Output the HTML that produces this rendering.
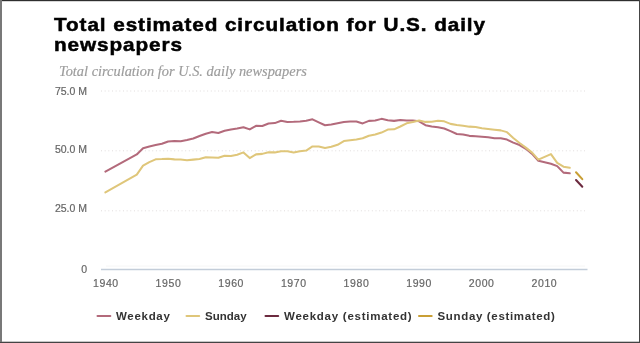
<!DOCTYPE html>
<html><head><meta charset="utf-8">
<style>
html,body{margin:0;padding:0;background:#fff;}
body{width:640px;height:343px;overflow:hidden;position:relative;}
.b{position:absolute;}
.t{position:absolute;white-space:nowrap;font-family:"Liberation Sans",sans-serif;filter:grayscale(1);}
.ti{font-size:18.5px;font-weight:bold;color:#000;line-height:20px;transform-origin:0 0;-webkit-text-stroke:0.5px #000;}
#sub{left:58.5px;top:63.5px;font-family:"Liberation Serif",serif;font-style:italic;font-size:13.6px;color:#9c9c9c;-webkit-text-stroke:0.15px #9c9c9c;transform-origin:0 0;transform:scaleX(1.058);}
.yl{font-size:10.5px;color:#666;-webkit-text-stroke:0.2px #666;text-align:right;width:40px;}
.xl{font-size:10.5px;color:#666;-webkit-text-stroke:0.2px #666;text-align:center;width:40px;letter-spacing:0.6px;text-indent:0.6px;}
.lg{font-size:11.5px;font-weight:bold;color:#333;top:310px;}
svg{position:absolute;left:0;top:0;}
</style></head><body>
<svg width="640" height="343" viewBox="0 0 640 343">
 <g stroke="#e0dcdc" stroke-width="1" stroke-dasharray="1 2.66">
  <line x1="101" y1="91" x2="585" y2="91"/>
  <line x1="101" y1="150.8" x2="585" y2="150.8"/>
  <line x1="101" y1="210.8" x2="585" y2="210.8"/>
 </g>
 <line x1="106" y1="266.1" x2="585" y2="266.1" stroke="#f6f6f6" stroke-width="1"/>
 <line x1="101" y1="269.5" x2="587.5" y2="269.5" stroke="#c3cdd9" stroke-width="1.4"/>
 <g fill="none" stroke-width="2.05" stroke-linejoin="round" stroke-linecap="round">
  <path d="M105.40 171.61 L136.78 154.39 L143.05 148.35 L149.33 146.58 L155.60 145.12 L161.88 143.79 L168.15 141.46 L174.43 141.01 L180.70 141.17 L186.98 139.93 L193.25 138.50 L199.53 135.95 L205.80 133.68 L212.08 132.01 L218.35 132.93 L224.62 130.84 L230.90 129.46 L237.18 128.56 L243.45 127.16 L249.73 129.40 L256.00 125.82 L262.27 125.95 L268.55 123.48 L274.83 123.09 L281.10 120.78 L287.38 121.91 L293.65 121.79 L299.93 121.50 L306.20 120.84 L312.48 119.33 L318.75 122.34 L325.02 125.24 L331.30 124.48 L337.58 123.25 L343.85 122.07 L350.12 121.52 L356.40 121.57 L362.68 123.40 L368.95 120.89 L375.23 120.52 L381.50 118.87 L387.77 120.23 L394.05 120.86 L400.33 120.09 L406.60 120.40 L412.88 120.51 L419.15 121.27 L425.43 125.17 L431.70 126.41 L437.98 127.25 L444.25 128.45 L450.52 131.09 L456.80 133.97 L463.08 134.57 L469.35 135.87 L475.62 136.35 L481.90 136.84 L488.18 137.30 L494.45 138.23 L500.73 138.24 L507.00 139.56 L513.27 142.61 L519.55 145.02 L525.83 148.79 L532.10 153.88 L538.38 160.87 L550.93 163.80 L557.20 166.15 L563.48 172.61 L569.75 173.30" stroke="#b36a7b"/>
  <path d="M105.40 192.42 L136.78 174.63 L143.05 165.60 L149.33 162.07 L155.60 159.32 L161.88 159.10 L168.15 158.67 L174.43 159.39 L180.70 159.55 L186.98 160.17 L193.25 159.63 L199.53 158.99 L205.80 157.29 L212.08 157.57 L218.35 157.78 L224.62 155.66 L230.90 156.01 L237.18 154.79 L243.45 152.41 L249.73 158.08 L256.00 154.39 L262.27 153.88 L268.55 152.26 L274.83 152.39 L281.10 151.28 L287.38 151.32 L293.65 152.41 L299.93 151.35 L306.20 150.55 L312.48 146.47 L318.75 146.56 L325.02 147.95 L331.30 146.83 L337.58 144.78 L343.85 141.07 L350.12 140.15 L356.40 139.44 L362.68 138.25 L368.95 135.68 L375.23 134.53 L381.50 132.56 L387.77 129.59 L394.05 129.35 L400.33 126.53 L406.60 123.30 L412.88 122.03 L419.15 120.54 L425.43 121.89 L431.70 121.67 L437.98 120.71 L444.25 121.35 L450.52 123.88 L456.80 124.90 L463.08 125.65 L469.35 126.64 L475.62 127.05 L481.90 128.18 L488.18 128.96 L494.45 129.70 L500.73 130.37 L507.00 132.13 L513.27 138.03 L519.55 143.00 L525.83 147.59 L532.10 152.65 L538.38 159.66 L550.93 154.09 L557.20 162.85 L563.48 166.65 L569.75 167.77" stroke="#dfc67a"/>
  <path d="M576.02 172.28 L582.30 179.17" stroke="#c99f35"/>
  <path d="M576.02 180.00 L582.30 186.77" stroke="#6c2a3f"/>
  <line x1="97.5" y1="316" x2="110.3" y2="316" stroke="#b36a7b"/>
  <line x1="186.5" y1="316" x2="199.2" y2="316" stroke="#dfc67a"/>
  <line x1="265.5" y1="316" x2="278.2" y2="316" stroke="#6c2a3f"/>
  <line x1="419" y1="316" x2="431.7" y2="316" stroke="#c99f35"/>
 </g>
</svg>
<div class="b" style="left:0;top:0;width:640px;height:1px;background:#2e2e2e"></div>
<div class="b" style="left:0;top:1px;width:640px;height:1px;background:rgba(0,0,0,0.16)"></div>
<div class="b" style="left:0;top:341px;width:640px;height:1px;background:rgba(0,0,0,0.22)"></div>
<div class="b" style="left:0;top:342px;width:640px;height:1px;background:#444"></div>
<div class="b" style="left:639px;top:0;width:1px;height:343px;background:#454545"></div>
<div class="b" style="left:0;top:0;width:2px;height:342px;background:#787878"></div>
<div class="t ti" id="t1" style="left:54px;top:14.5px;transform:scaleX(1.12);letter-spacing:0.82px">Total estimated circulation for U.S. daily</div>
<div class="t ti" id="t2" style="left:54px;top:35px;transform:scaleX(1.12);letter-spacing:0.82px">newspapers</div>
<div class="t" id="sub">Total circulation for U.S. daily newspapers</div>
<div class="t yl" style="left:47px;top:85px">75.0 M</div>
<div class="t yl" style="left:47px;top:143px">50.0 M</div>
<div class="t yl" style="left:47px;top:202px">25.0 M</div>
<div class="t yl" style="left:47px;top:262.5px">0</div>
<div class="t xl" style="left:85.6px;top:277px">1940</div>
<div class="t xl" style="left:148.2px;top:277px">1950</div>
<div class="t xl" style="left:210.9px;top:277px">1960</div>
<div class="t xl" style="left:273.5px;top:277px">1970</div>
<div class="t xl" style="left:336.2px;top:277px">1980</div>
<div class="t xl" style="left:398.8px;top:277px">1990</div>
<div class="t xl" style="left:461.4px;top:277px">2000</div>
<div class="t xl" style="left:524.1px;top:277px">2010</div>
<div class="t lg" style="left:116px;letter-spacing:0.7px">Weekday</div>
<div class="t lg" style="left:205px">Sunday</div>
<div class="t lg" style="left:284px;letter-spacing:0.75px">Weekday (estimated)</div>
<div class="t lg" style="left:437.5px;letter-spacing:0.66px">Sunday (estimated)</div>
</body></html>
